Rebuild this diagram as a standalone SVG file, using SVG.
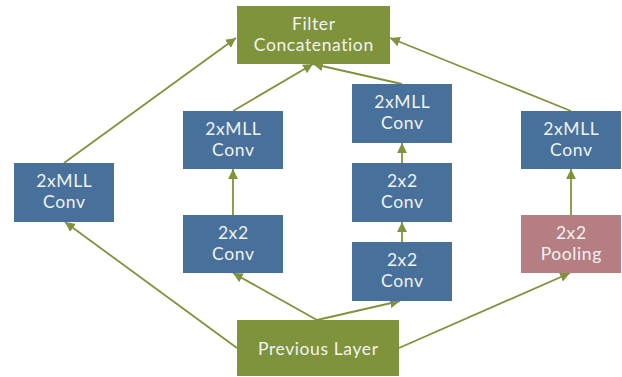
<svg xmlns="http://www.w3.org/2000/svg" width="622" height="377" viewBox="0 0 622 377">
  <style>
    .green { fill: #7F933C; }
    .blue { fill: #47709A; }
    .pool { fill: #B47E83; }
    .lbl { font-family: Lato, "Open Sans", sans-serif; font-size: 17.5px; letter-spacing: 0.6px; fill: #F2F2F2; text-anchor: middle; }
    .edge { stroke: #7F933C; stroke-width: 1.8; fill: none; marker-end: url(#arrow); }
  </style>
  <defs>
    <marker id="arrow" viewBox="0 0 10 10" refX="10" refY="5" markerWidth="5.5" markerHeight="5.5" orient="auto" markerUnits="strokeWidth">
      <path d="M0,0 L10,5 L0,10 z" fill="#7F933C"/>
    </marker>
  </defs>

  <g id="connectors">
    <!-- from previous layer -->
    <line class="edge" x1="237" y1="348" x2="65" y2="222"/>
    <line class="edge" x1="317" y1="320" x2="233" y2="273"/>
    <line class="edge" x1="317" y1="320" x2="400" y2="301"/>
    <line class="edge" x1="399" y1="348" x2="570" y2="273"/>
    <!-- vertical chains -->
    <line class="edge" x1="233" y1="215" x2="233" y2="169"/>
    <line class="edge" x1="402" y1="242" x2="402" y2="222"/>
    <line class="edge" x1="402" y1="163" x2="402" y2="143"/>
    <line class="edge" x1="571" y1="215" x2="571" y2="169"/>
    <!-- into concatenation -->
    <line class="edge" x1="64" y1="163" x2="236" y2="38"/>
    <line class="edge" x1="233" y1="111" x2="313" y2="64"/>
    <line class="edge" x1="402" y1="84" x2="313" y2="64"/>
    <line class="edge" x1="571" y1="111" x2="390" y2="38"/>
  </g>

  <g id="filter-concat">
    <rect class="green" x="237" y="6" width="153" height="58"/>
    <text class="lbl" x="313.8" y="30">Filter</text>
    <text class="lbl" x="313.8" y="51">Concatenation</text>
  </g>

  <g id="mll-left">
    <rect class="blue" x="14" y="163" width="100" height="59"/>
    <text class="lbl" x="64.3" y="187">2xMLL</text>
    <text class="lbl" x="64.3" y="208">Conv</text>
  </g>

  <g id="mll-b">
    <rect class="blue" x="183" y="111" width="100" height="58"/>
    <text class="lbl" x="233.3" y="135">2xMLL</text>
    <text class="lbl" x="233.3" y="156">Conv</text>
  </g>
  <g id="conv-b">
    <rect class="blue" x="183" y="215" width="100" height="58"/>
    <text class="lbl" x="233.3" y="239">2x2</text>
    <text class="lbl" x="233.3" y="260">Conv</text>
  </g>

  <g id="mll-c">
    <rect class="blue" x="352" y="84" width="100" height="59"/>
    <text class="lbl" x="402.3" y="108">2xMLL</text>
    <text class="lbl" x="402.3" y="129">Conv</text>
  </g>
  <g id="conv-c2">
    <rect class="blue" x="352" y="163" width="100" height="59"/>
    <text class="lbl" x="402.3" y="187">2x2</text>
    <text class="lbl" x="402.3" y="208">Conv</text>
  </g>
  <g id="conv-c1">
    <rect class="blue" x="352" y="242" width="100" height="59"/>
    <text class="lbl" x="402.3" y="266">2x2</text>
    <text class="lbl" x="402.3" y="287">Conv</text>
  </g>

  <g id="mll-d">
    <rect class="blue" x="521" y="111" width="100" height="58"/>
    <text class="lbl" x="571.3" y="135">2xMLL</text>
    <text class="lbl" x="571.3" y="156">Conv</text>
  </g>
  <g id="pool-d">
    <rect class="pool" x="521" y="215" width="100" height="58"/>
    <text class="lbl" x="571.3" y="239">2x2</text>
    <text class="lbl" x="571.3" y="260">Pooling</text>
  </g>

  <g id="previous-layer">
    <rect class="green" x="237" y="320" width="162" height="56"/>
    <text class="lbl" x="318.3" y="355">Previous Layer</text>
  </g>
</svg>
